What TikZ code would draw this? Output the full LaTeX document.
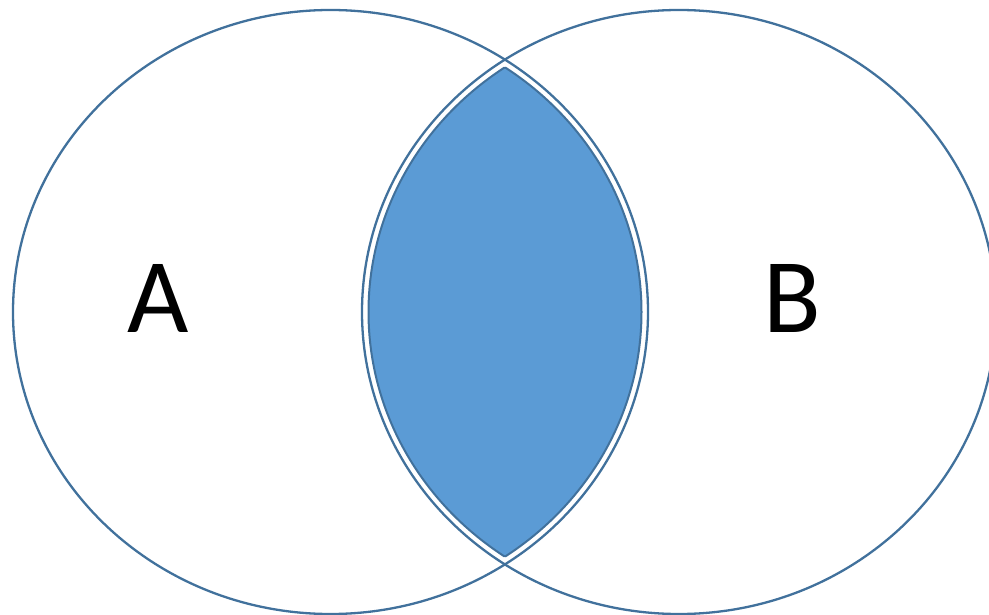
\documentclass[tikz,border=0pt]{standalone}
\usepackage{fontspec}
\setmainfont{Carlito}
\usepackage{tikz}
\definecolor{ringblue}{HTML}{41719C}
\definecolor{lensblue}{HTML}{5B9BD5}

\tikzset{
  ring/.style={ringblue,line width=2.3pt},
  lens/.style={ringblue,line width=2pt},
  setname/.style={font=\fontsize{106}{106}\selectfont,inner sep=0pt,anchor=base}
}

\begin{document}
\begin{tikzpicture}[x=1pt,y=-1pt]
  \useasboundingbox (0,0) rectangle (989,615);
  % shaded overlap, a little inside the two rings
  \begin{scope}
    \clip (330.5,312) ellipse (311pt and 295.5pt);
    \fill[lensblue] (679,312) ellipse (310.5pt and 295.5pt);
    \draw[lens] (679,312) ellipse (310.5pt and 295.5pt);
  \end{scope}
  \begin{scope}
    \clip (679,312) ellipse (310.5pt and 295.5pt);
    \draw[lens] (330.5,312) ellipse (311pt and 295.5pt);
  \end{scope}
  % the two sets
  \draw[ring] (330.5,312) ellipse (317.5pt and 302pt);
  \draw[ring] (679,312) ellipse (317pt and 302pt);
  \node[setname] (a) at (158.5,332) {A};
  \node[setname] (b) at (792.5,332) {B};
\end{tikzpicture}
\end{document}
